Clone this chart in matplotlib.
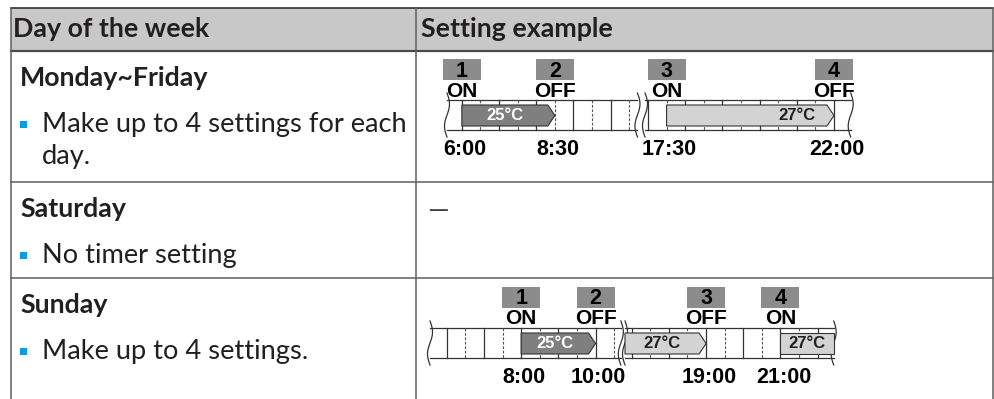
import numpy as np
import matplotlib.pyplot as plt
from matplotlib.patches import Rectangle, Polygon

# table text
headers = ['Day of the week', 'Setting example']
days = ['Monday~Friday', 'Saturday', 'Sunday']
notes = [['Make up to 4 settings for each', 'day.'], ['No timer setting'], ['Make up to 4 settings.']]
saturday_setting = '—'

# Monday~Friday timer (hours of the day)
mon_hours = [6.0, 8.5, 17.5, 22.0]
mon_states = ['ON', 'OFF', 'ON', 'OFF']
mon_labels = ['6:00', '8:30', '17:30', '22:00']
mon_runs = [(6.0, 8.5, '25°C'), (17.5, 22.0, '27°C')]
mon_spans = [(5.6, 10.72), (16.92, 22.45)]   # visible parts either side of the break

# Sunday timer
sun_hours = [8.0, 10.0, 19.0, 21.0]
sun_states = ['ON', 'OFF', 'OFF', 'ON']
sun_labels = ['8:00', '10:00', '19:00', '21:00']
sun_runs = [(8.0, 10.0, '25°C'), (16.82, 19.0, '27°C'), (21.0, 22.43, '27°C')]
sun_spans = [(5.55, 10.68), (16.82, 22.43)]

W, H = 995, 399
PPH = 37.2          # pixels per hour on the timelines
TXT = '#231f20'
LINE = '#5f5f5f'
run_colors = {'25°C': ('#7f7f7f', 'white'), '27°C': ('#d3d3d3', '#231f20')}
DIAG = ['Liberation Sans', 'DejaVu Sans']
TAB = ['Lato', 'DejaVu Sans']

fig = plt.figure(figsize=(W / 100, H / 100), dpi=100)
base = fig.add_axes([0, 0, 1, 1])
base.set_xlim(0, W)
base.set_ylim(H, 0)
base.axis('off')
renderer = fig.canvas.get_renderer()


def fit_size(text, weight, target):
    t = base.text(0, 0, text, fontsize=20, family=TAB, weight=weight)
    w = t.get_window_extent(renderer=renderer).width
    t.remove()
    return 20 * target / w


fs_bold = fit_size(days[0], 'bold', 189)
fs_reg = fit_size(notes[0][0], 'normal', 365)

# ---- table frame ----
base.add_patch(Rectangle((11, 8), 982, 43, fc='#c8c8c8', ec='none'))
base.plot([11, 993], [8, 8], color='#333333', lw=1.2)
base.plot([11, 993], [51, 51], color='#4a4a4a', lw=1.6)
for y in [182, 278]:
    base.plot([11, 993], [y, y], color=LINE, lw=1.1)
for x in [11, 416, 993]:
    base.plot([x, x], [8, H], color=LINE, lw=1.1)

base.text(13, 37, headers[0], fontsize=fs_bold, family=TAB, weight='bold', color=TXT)
base.text(421, 37, headers[1], fontsize=fs_bold, family=TAB, weight='bold', color=TXT)

row_tops = [51, 182, 278]
for top, day, lines in zip(row_tops, days, notes):
    base.text(20, top + 35, day, fontsize=fs_bold, family=TAB, weight='bold', color=TXT)
    base.add_patch(Rectangle((20, top + 70), 7, 7, fc='#00a0e0', ec='none'))
    for i, line in enumerate(lines):
        base.text(42, top + 81 + 32 * i, line, fontsize=fs_reg, family=TAB, color=TXT)

base.text(427, 218, saturday_setting, fontsize=fs_reg, family=TAB, color='#444444')


# ---- timelines ----
def draw_timeline(hours, states, labels, runs, spans, x_starts, top):
    for (h0, h1), x0 in zip(spans, x_starts):
        ax = fig.add_axes([x0 / W, 1 - (top + 100) / H, (h1 - h0) * PPH / W, 105 / H])
        ax.set_xlim(h0, h1)
        ax.set_ylim(100, -5)
        ax.axis('off')

        # bar outline and cells
        ax.plot([h0, h1], [41, 41], color='#333333', lw=0.9, clip_on=False)
        ax.plot([h0, h1], [71, 71], color='#333333', lw=0.9, clip_on=False)
        for h in np.arange(np.ceil(h0 * 2) / 2, h1, 0.5):
            if h % 1 == 0:
                ax.plot([h, h], [41, 71], color='#333333', lw=0.9)
            else:
                ax.plot([h, h], [41, 71], color='#555555', lw=0.8, ls=(0, (2.5, 1.5)))

        # wavy broken ends
        t = np.linspace(0, 1, 40)
        for he in (h0, h1):
            ax.plot(he + 2.5 / PPH * np.sin(2 * np.pi * t), 34 + 44 * t,
                    color='#333333', lw=0.9, clip_on=False)

        # temperature runs
        for a, b, temp in runs:
            if b <= h0 or a >= h1:
                continue
            a, b = max(a, h0), min(b, h1)
            tip = 7 / PPH if b in hours else 0
            fc, tc = run_colors[temp]
            ax.add_patch(Polygon([(a, 46), (b - tip, 46), (b, 56.5), (b - tip, 67), (a, 67)],
                                 closed=True, fc=fc, ec='#333333', lw=0.8, zorder=3,
                                 clip_on=False))
            xc = b - 1.0 if b - a > 3 else (a + b - tip) / 2
            ax.text(xc, 61.5, temp, ha='center', va='baseline', fontsize=12,
                    family=DIAG, weight='bold', color=tc, zorder=4)

        # events
        for n, (h, st, lab) in enumerate(zip(hours, states, labels), start=1):
            if not h0 <= h <= h1:
                continue
            ax.add_patch(Rectangle((h - 19 / PPH, 0), 38 / PPH, 21, fc='#8c8c8c',
                                   ec='none', clip_on=False))
            ax.text(h, 17.5, str(n), ha='center', va='baseline', fontsize=15.5,
                    family=DIAG, weight='bold', color='black')
            ax.text(h, 37.5, st, ha='center', va='baseline', fontsize=15,
                    family=DIAG, weight='bold', color='black')
            ax.text(h + 3 / PPH, 96, lab, ha='center', va='baseline', fontsize=15.5,
                    family=DIAG, weight='bold', color='black')


draw_timeline(mon_hours, mon_states, mon_labels, mon_runs, mon_spans, [447, 645], 59)
draw_timeline(sun_hours, sun_states, sun_labels, sun_runs, sun_spans, [430, 625], 287)

fig.savefig('out.png', dpi=100)
